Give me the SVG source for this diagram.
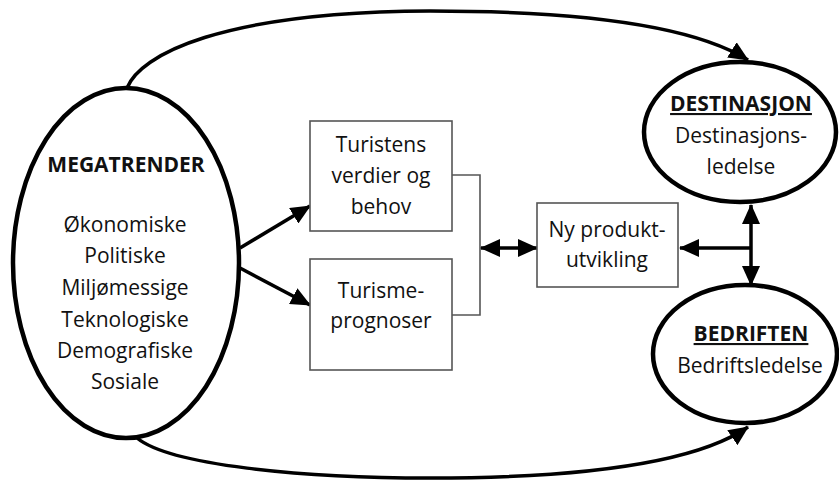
<svg xmlns="http://www.w3.org/2000/svg" width="839" height="481" viewBox="0 0 839 481">
<style>
text{font-family:"Open Sans","Noto Sans","Liberation Sans",sans-serif;font-size:21px;fill:#111;text-anchor:middle}
.b{font-weight:bold}
.u{text-decoration:underline}
.ell{fill:#fff;stroke:#000;stroke-width:4.5}
.box{fill:#fff;stroke:#555;stroke-width:1.6}
.con{fill:none;stroke:#000;stroke-width:3.5}
.thin{fill:none;stroke:#555;stroke-width:1.6}
</style>
<defs>
<marker id="ah" markerUnits="userSpaceOnUse" viewBox="0 0 20 18" refX="19" refY="9" markerWidth="20" markerHeight="18" orient="auto-start-reverse">
<path d="M0,0 L20,9 L0,18 z" fill="#000"/>
</marker>
</defs>
<rect width="839" height="481" fill="#fff"/>
<g id="connectors">
<path class="con" d="M127,88 C140,55 220,12 430,11 C600,11 700,30 748,60" marker-end="url(#ah)"/>
<path class="con" d="M137,438 C170,465 300,478 430,478 C600,478 700,460 748,427" marker-end="url(#ah)"/>
<path class="con" d="M240,248 L310,206" marker-end="url(#ah)"/>
<path class="con" d="M240,268 L310,305" marker-end="url(#ah)"/>
<path class="thin" d="M452,175 H480 V315 H452"/>
<path class="con" d="M481,248 H537" marker-start="url(#ah)" marker-end="url(#ah)"/>
<path class="con" d="M751,248 H680" marker-end="url(#ah)"/>
<path class="con" d="M751,205 V285" marker-start="url(#ah)" marker-end="url(#ah)"/>
</g>
<g id="megatrender">
<ellipse class="ell" cx="126" cy="263" rx="113" ry="175"/>
<text class="b" x="126" y="172">MEGATRENDER</text>
<text x="125" y="232">Økonomiske</text>
<text x="125" y="263">Politiske</text>
<text x="125" y="295">Miljømessige</text>
<text x="125" y="327">Teknologiske</text>
<text x="125" y="358">Demografiske</text>
<text x="125" y="389">Sosiale</text>
</g>
<g id="turistens">
<rect class="box" x="310" y="121" width="142" height="110"/>
<text x="381" y="152">Turistens</text>
<text x="381" y="183">verdier og</text>
<text x="381" y="214">behov</text>
</g>
<g id="turisme">
<rect class="box" x="310" y="259" width="142" height="111"/>
<text x="381" y="298">Turisme-</text>
<text x="381" y="328">prognoser</text>
</g>
<g id="nyprodukt">
<rect class="box" x="537" y="203" width="141" height="84"/>
<text x="607" y="237">Ny produkt-</text>
<text x="607" y="267">utvikling</text>
</g>
<g id="destinasjon">
<ellipse class="ell" cx="740" cy="132" rx="96" ry="70"/>
<text class="b u" x="741" y="111">DESTINASJON</text>
<text x="741" y="143">Destinasjons-</text>
<text x="741" y="174">ledelse</text>
</g>
<g id="bedriften">
<ellipse class="ell" cx="745" cy="354" rx="92" ry="69"/>
<text class="b u" x="751" y="341">BEDRIFTEN</text>
<text x="750" y="373">Bedriftsledelse</text>
</g>
</svg>
